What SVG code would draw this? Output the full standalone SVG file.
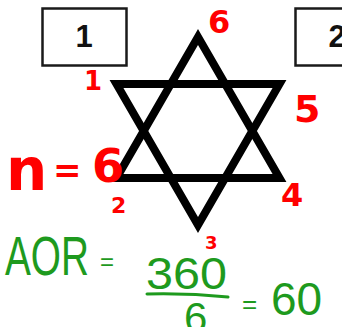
<svg xmlns="http://www.w3.org/2000/svg" width="342" height="327" viewBox="0 0 342 327">
<style>
.box{fill:#fff;stroke:#1a1a1a;stroke-width:2.5}
.num{font-family:"Liberation Sans",Arial,sans-serif;font-weight:bold;font-size:31px;fill:#111;text-anchor:middle}
.red{font-family:"DejaVu Sans","Liberation Sans",sans-serif;font-weight:bold;fill:#ff0000}
.grn{font-family:"Liberation Sans",Arial,sans-serif;fill:#1e9a1e}
.tri{fill:none;stroke:#000;stroke-width:8;stroke-linejoin:miter;stroke-miterlimit:4}
</style>
<rect width="342" height="327" fill="#fff"/>
<g id="box1"><rect class="box" x="42.5" y="8.5" width="84" height="57"/><text class="num" x="84" y="47">1</text></g>
<g id="box2"><rect class="box" x="295.5" y="8.5" width="84" height="57"/><text class="num" x="337" y="47">2</text></g>
<g id="star">
<polygon class="tri" points="198,37 279.5,178 116.5,178"/>
<polygon class="tri" points="116.5,84 279.5,84 198,225"/>
</g>
<g id="vertex-labels">
<text class="red" x="208" y="33" font-size="32">6</text>
<text class="red" x="84" y="90" font-size="26">1</text>
<text class="red" x="294" y="122" font-size="38">5</text>
<text class="red" x="281" y="206" font-size="32">4</text>
<text class="red" x="111" y="213" font-size="22">2</text>
<text class="red" x="205" y="249" font-size="18">3</text>
</g>
<g id="n-label">
<text class="red" x="6" y="190" font-size="58">n</text>
<text class="red" x="53" y="182" font-size="34">=</text>
<text class="red" x="92" y="182" font-size="46">6</text>
</g>
<g id="formula">
<text class="grn" x="5" y="275" font-size="56" textLength="84" lengthAdjust="spacingAndGlyphs">AOR</text>
<text class="grn" x="100" y="270" font-size="24">=</text>
<text class="grn" x="146" y="289" font-size="44" textLength="81" lengthAdjust="spacingAndGlyphs">360</text>
<path d="M147,294 Q188,293 228,297" fill="none" stroke="#1e9a1e" stroke-width="3" stroke-linecap="round"/>
<text class="grn" x="184" y="332" font-size="42">6</text>
<text class="grn" x="242" y="313" font-size="26">=</text>
<text class="grn" x="271" y="315" font-size="46">60</text>
</g>
</svg>
